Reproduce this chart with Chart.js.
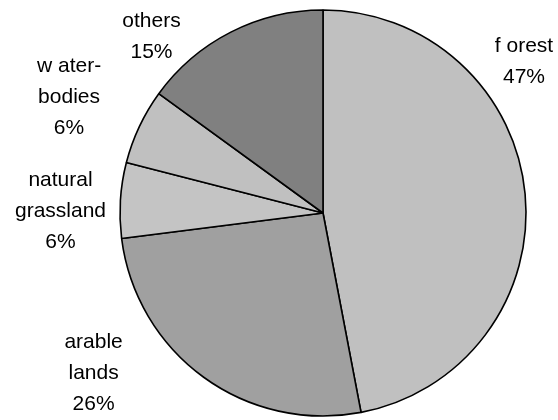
<!DOCTYPE html>
<html>
<head>
<meta charset="utf-8">
<script src="https://cdn.jsdelivr.net/npm/chart.js@4/dist/chart.umd.min.js"></script>
<style>
  html, body { margin: 0; padding: 0; background: #fff; }
  #wrap { width: 558px; height: 420px; position: relative; }
</style>
</head>
<body>
<div id="wrap"><canvas id="c" width="558" height="420"></canvas></div>
<script>
// Land use shares (percent), clockwise from 12 o'clock
const categories = ['forest', 'arable lands', 'natural grassland', 'water-bodies', 'others'];
const shares = [47, 26, 6, 6, 15];
// Text lines shown above each percentage
const labelLines = [['f orest'], ['arable', 'lands'], ['natural', 'grassland'], ['w ater-', 'bodies'], ['others']];
const fills = ['#c0c0c0', '#a0a0a0', '#c4c4c4', '#c0c0c0', '#808080'];

// Label block anchors, in units of the pie radius from its centre
const labelAnchors = [
  [0.99, -0.823],
  [-1.13, 0.635],
  [-1.293, -0.163],
  [-1.251, -0.724],
  [-0.845, -0.946]
];
const LINE_H = 31;

const outsideLabels = {
  id: 'outsideLabels',
  afterDatasetsDraw(chart) {
    const meta = chart.getDatasetMeta(0);
    const arc0 = meta.data[0];
    if (!arc0) return;
    const cx = arc0.x, cy = arc0.y, r = arc0.outerRadius;
    const ctx = chart.ctx;
    ctx.save();
    ctx.font = '21px "Liberation Sans", Arial, sans-serif';
    ctx.fillStyle = '#000';
    ctx.textAlign = 'center';
    ctx.textBaseline = 'middle';
    shares.forEach((v, i) => {
      const lines = labelLines[i].concat([v + '%']);
      const x = cx + labelAnchors[i][0] * r;
      const y0 = cy + labelAnchors[i][1] * r;
      lines.forEach((t, k) => ctx.fillText(t, x, y0 + k * LINE_H));
    });
    ctx.restore();
  }
};

new Chart(document.getElementById('c'), {
  type: 'pie',
  data: {
    labels: categories,
    datasets: [{
      data: shares,
      backgroundColor: fills,
      borderColor: '#000',
      borderWidth: 1.6,
      hoverOffset: 0,
      offset: 0,
      radius: 203
    }]
  },
  options: {
    responsive: false,
    animation: false,
    events: [],
    layout: { padding: { left: 88, right: 0, top: 6, bottom: 0 } },
    plugins: {
      legend: { display: false },
      tooltip: { enabled: false },
      title: { display: false }
    }
  },
  plugins: [outsideLabels]
});
</script>
</body>
</html>
